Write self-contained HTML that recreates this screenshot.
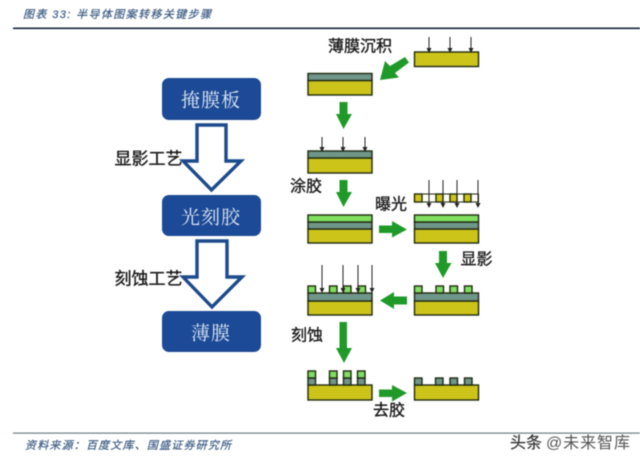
<!DOCTYPE html>
<html><head><meta charset="utf-8"><style>
html,body{margin:0;padding:0;background:#fff;width:640px;height:465px;overflow:hidden}
svg{display:block;filter:blur(0.45px)}
text{font-family:"Liberation Sans","Noto Sans CJK SC",sans-serif}
.l{font-size:16px;fill:#1a1a1a;stroke:#1a1a1a;stroke-width:0.35;text-anchor:middle;dominant-baseline:central}
.b{font-family:"Noto Serif CJK SC",serif;font-size:19px;fill:#dfe8f5;text-anchor:middle;dominant-baseline:central}
.y{fill:#cdc41a;stroke:#1f2a10;stroke-width:1.4}
.g{fill:#6f9688;stroke:#1f2a10;stroke-width:1.4}
.n{fill:#7fdf5f;stroke:#1f2a10;stroke-width:1.4}
.w{fill:#fdfdf5;stroke:#1f2a10;stroke-width:1}
.a{stroke:#222;stroke-width:1}
.ga{fill:#1f9a28}
.h{fill:#fff;stroke:#1c4a8c;stroke-width:3.4;stroke-linejoin:miter}
.box{fill:#1c4a96}
</style></head><body>
<svg width="640" height="465" viewBox="0 0 640 465" xmlns="http://www.w3.org/2000/svg">
<defs>
<marker id="m" markerWidth="5" markerHeight="5" refX="4" refY="2.5" orient="auto"><path d="M0 0L5 2.5L0 5Z" fill="#222"/></marker>
</defs>
<!-- header -->
<text x="23" y="18" font-size="11" font-style="italic" fill="#3a5a80" stroke="#3a5a80" stroke-width="0.2" textLength="188">图表 33:  半导体图案转移关键步骤</text>
<rect x="13" y="27.5" width="627" height="1.6" fill="#16263a"/>
<!-- footer -->
<rect x="13" y="432.5" width="627" height="1.2" fill="#6f7d84"/>
<text x="25" y="449" font-size="11" font-style="italic" fill="#3a5a80" stroke="#3a5a80" stroke-width="0.2" textLength="206">资料来源：百度文库、国盛证券研究所</text>

<!-- left -->
<rect class="box" x="162" y="78" width="99" height="42" rx="7"/>
<text class="b" x="211" y="99" letter-spacing="1">掩膜板</text>
<rect class="box" x="162" y="195" width="99" height="41" rx="7"/>
<text class="b" x="211" y="216" letter-spacing="1">光刻胶</text>
<rect class="box" x="162" y="311" width="99" height="41" rx="7"/>
<text class="b" x="211" y="332" letter-spacing="1">薄膜</text>
<path class="h" d="M197 125H226V161H241L211.500 190L183 161H197Z"/>
<path class="h" d="M197 241H227V277H242L212 307L183 277H197Z"/>
<text class="l" x="148.500" y="159" style="font-size:17px">显影工艺</text>
<text class="l" x="148.500" y="279" style="font-size:17px">刻蚀工艺</text>

<!-- row 1 -->
<rect class="y" x="414.500" y="52" width="64" height="14.500"/>
<g class="a"><line x1="429" y1="37" x2="429" y2="52" marker-end="url(#m)"/><line x1="450" y1="37" x2="450" y2="52" marker-end="url(#m)"/><line x1="471" y1="37" x2="471" y2="52" marker-end="url(#m)"/></g>
<text class="l" x="360" y="47">薄膜沉积</text>
<path class="ga" d="M380 80L385 61L390 66L405 57L409 62.500L395 73L399 77.500Z"/>
<rect class="y" x="308" y="80.500" width="64" height="14.500"/>
<rect class="g" x="308" y="73.500" width="64" height="7"/>
<path class="ga" d="M339.500 102H347.500V114H352L343.500 129L336 114H339.500Z"/>

<!-- row 2 -->
<rect class="y" x="308" y="158" width="64" height="15"/>
<rect class="g" x="308" y="151" width="64" height="7"/>
<g class="a"><line x1="322" y1="137" x2="322" y2="151" marker-end="url(#m)"/><line x1="343" y1="137" x2="343" y2="151" marker-end="url(#m)"/><line x1="365" y1="137" x2="365" y2="151" marker-end="url(#m)"/></g>
<text class="l" x="306" y="187">涂胶</text>
<path class="ga" d="M339.500 180H347.500V192H352L343.500 207L336 192H339.500Z"/>

<!-- row 3 -->
<rect class="y" x="308" y="229" width="64" height="14"/>
<rect class="g" x="308" y="222" width="64" height="7"/>
<rect class="n" x="308" y="215" width="64" height="7"/>
<path class="ga" d="M379 225.500H392V221L407 229.500L392 237.500V233H379Z"/>
<rect class="y" x="414.500" y="229" width="64" height="14"/>
<rect class="g" x="414.500" y="222" width="64" height="7"/>
<rect class="n" x="414.500" y="215" width="64" height="7"/>
<text class="l" x="391" y="205">曝光</text>
<!-- mask -->
<rect class="w" x="414.500" y="194" width="64" height="8"/>
<rect class="y" x="414.500" y="194" width="7.500" height="8"/>
<rect class="y" x="436" y="194" width="7" height="8"/>
<rect class="y" x="450" y="194" width="7" height="8"/>
<rect class="y" x="464" y="194" width="7" height="8"/>
<g class="a"><line x1="429" y1="180" x2="429" y2="207" marker-end="url(#m)"/><line x1="443" y1="180" x2="443" y2="207" marker-end="url(#m)"/><line x1="457" y1="180" x2="457" y2="207" marker-end="url(#m)"/><line x1="478" y1="180" x2="478" y2="207" marker-end="url(#m)"/></g>
<path class="ga" d="M439 251H447V263H451.500L443 278L435 263H439Z"/>
<text class="l" x="476.500" y="260">显影</text>

<!-- row 4 -->
<rect class="y" x="414.500" y="301" width="64" height="14"/>
<rect class="g" x="414.500" y="293" width="64" height="8"/>
<g class="n"><rect x="414.500" y="286" width="7.500" height="7"/><rect x="436" y="286" width="7.500" height="7"/><rect x="450" y="286" width="7.500" height="7"/><rect x="464.500" y="286" width="7.500" height="7"/></g>
<path class="ga" d="M407 296.500V304.500H394V309L380 300.500L394 292V296.500Z"/>
<rect class="y" x="308" y="301" width="64" height="14"/>
<rect class="g" x="308" y="293" width="64" height="8"/>
<g class="n"><rect x="308" y="286" width="7.500" height="7"/><rect x="329.500" y="286" width="7.500" height="7"/><rect x="343.500" y="286" width="7.500" height="7"/><rect x="358" y="286" width="7.500" height="7"/></g>
<g class="a"><line x1="322" y1="265" x2="322" y2="292" marker-end="url(#m)"/><line x1="343" y1="265" x2="343" y2="292" marker-end="url(#m)"/><line x1="358" y1="265" x2="358" y2="292" marker-end="url(#m)"/><line x1="372" y1="265" x2="372" y2="292" marker-end="url(#m)"/></g>
<text class="l" x="307" y="336">刻蚀</text>
<path class="ga" d="M339.500 322H347V348H352L344 363L336 348H339.500Z"/>

<!-- row 5 -->
<rect class="y" x="308" y="385" width="64" height="15"/>
<g class="g"><rect x="308" y="378" width="7.500" height="7"/><rect x="329.500" y="378" width="7.500" height="7"/><rect x="343.500" y="378" width="7.500" height="7"/><rect x="357.500" y="378" width="7.500" height="7"/></g>
<g class="n"><rect x="308" y="371" width="7.500" height="7"/><rect x="329.500" y="371" width="7.500" height="7"/><rect x="343.500" y="371" width="7.500" height="7"/><rect x="357.500" y="371" width="7.500" height="7"/></g>
<path class="ga" d="M379 389.500H392V385L407 393L392 401.500V397H379Z"/>
<rect class="y" x="414.500" y="385" width="64" height="15"/>
<g class="g"><rect x="414.500" y="378" width="7.500" height="7"/><rect x="435.500" y="378" width="7.500" height="7"/><rect x="450" y="378" width="7.500" height="7"/><rect x="464.500" y="378" width="7.500" height="7"/></g>
<text class="l" x="389" y="411">去胶</text>

<!-- watermark -->
<text x="510" y="448" font-size="16" fill="#333" stroke="#333" stroke-width="0.2">头条</text>
<text x="546" y="448" font-size="16" fill="#555" textLength="84">@未来智库</text>
</svg>
</body></html>
